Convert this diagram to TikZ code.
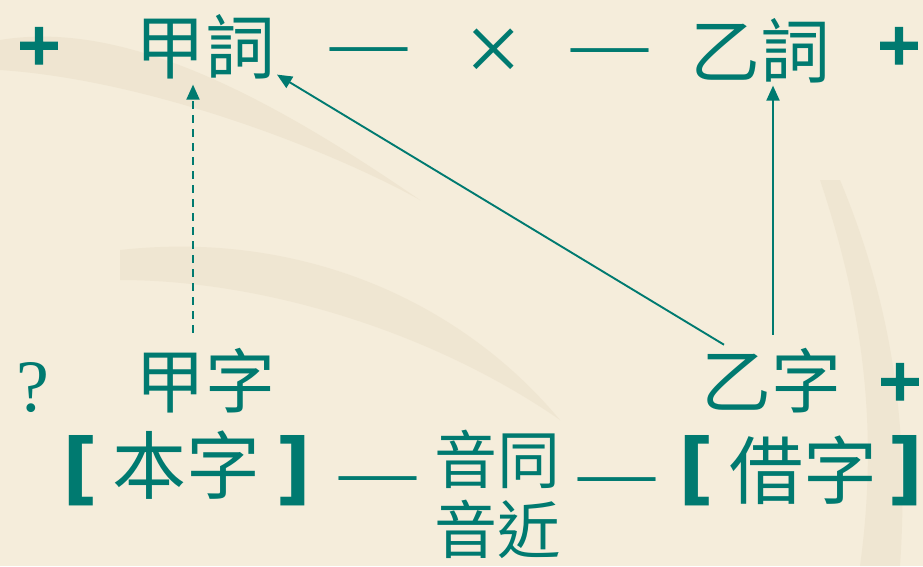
\documentclass[tikz,border=0pt]{standalone}
\usepackage{fontspec}
\usetikzlibrary{arrows.meta}
\newfontfamily\cjk{Noto Sans CJK TC}
\newfontfamily\plusfont[FakeBold=2.5]{DejaVu Sans Bold}
\newfontfamily\brfont{DejaVu Sans Bold}
\newfontfamily\serf{Liberation Serif}
\definecolor{ink}{HTML}{007A70}
\definecolor{bg}{HTML}{F5EDDB}
\definecolor{brush}{HTML}{E6DAC2}
\tikzset{
  lbl/.style={inner sep=0pt, outer sep=0pt, text=ink, anchor=base},
  big/.style={lbl, font=\cjk\fontsize{70}{80}\selectfont},
  mid/.style={lbl, font=\cjk\fontsize{74}{84}\selectfont},
  small/.style={lbl, font=\cjk\fontsize{63}{72}\selectfont},
  bullet/.style={lbl, font=\plusfont\fontsize{58}{62}\selectfont},
  dashtxt/.style={lbl, font=\serf\fontsize{77}{80}\selectfont},
  brk/.style={lbl, font=\brfont\fontsize{79}{84}\selectfont},
  conn/.style={draw=ink, line width=1.9pt, -{Triangle[length=15pt,width=13pt]}},
}
\begin{document}
\begin{tikzpicture}[x=1pt,y=-1pt]
\useasboundingbox (0,0) rectangle (923,566);
\fill[bg] (0,0) rectangle (923,566);
% faint background brush strokes
\fill[brush, opacity=0.4] (0,40) .. controls (120,20) and (260,90) .. (420,200) .. controls (330,150) and (150,80) .. (0,70) -- cycle;
\fill[brush, opacity=0.35] (120,250) .. controls (300,230) and (460,300) .. (560,420) .. controls (430,330) and (260,280) .. (120,280) -- cycle;
\fill[brush, opacity=0.35] (820,180) .. controls (860,300) and (880,420) .. (860,566) -- (900,566) .. controls (910,420) and (890,300) .. (840,180) -- cycle;
% top row
\node[bullet] (plusA) at (39,64) {+};
\node[big] (jiaci) at (205,73) {甲詞};
\node[dashtxt] (dashA) at (368.5,67) {—};
\node[lbl, font=\serf\fontsize{100}{100}\selectfont] (times) at (494,82) {×};
\node[dashtxt] (dashB) at (610,68) {—};
\node[big] (yici) at (760,77) {乙詞};
\node[bullet] (plusB) at (899,64) {+};
% middle row
\node[lbl, font=\serf\fontsize{74}{80}\selectfont] (q) at (33,411) {?};
\node[big] (jiazi) at (205.5,407) {甲字};
\node[big] (yizi) at (771,407) {乙字};
\node[bullet] (plusC) at (900,400) {+};
% bottom row
\node[brk] (lbA) at (81,495) {[};
\node[mid] (benzi) at (186.5,493) {本字};
\node[brk] (rbA) at (294,495) {]};
\node[dashtxt] (dashC) at (377.5,496) {—};
\node[small] (yintong) at (497,483) {音同};
\node[small] (yinjin) at (497,553) {音近};
\node[dashtxt] (dashD) at (616.5,497) {—};
\node[brk] (lbB) at (697,495) {[};
\node[mid] (jiezi) at (803.5,498) {借字};
\node[brk] (rbB) at (906,495) {]};
% connectors
\draw[conn, dash pattern=on 8pt off 6pt] ([xshift=-12.5pt,yshift=15pt]jiazi.north) -- ([xshift=-12pt,yshift=-6pt]jiaci.south);
\draw[conn] ([xshift=23pt,yshift=3pt]yizi.north west) -- ([xshift=2pt,yshift=4pt]jiaci.south east);
\draw[conn] ([xshift=2pt,yshift=13pt]yizi.north) -- ([xshift=13pt,yshift=-3pt]yici.south);
\end{tikzpicture}
\end{document}
